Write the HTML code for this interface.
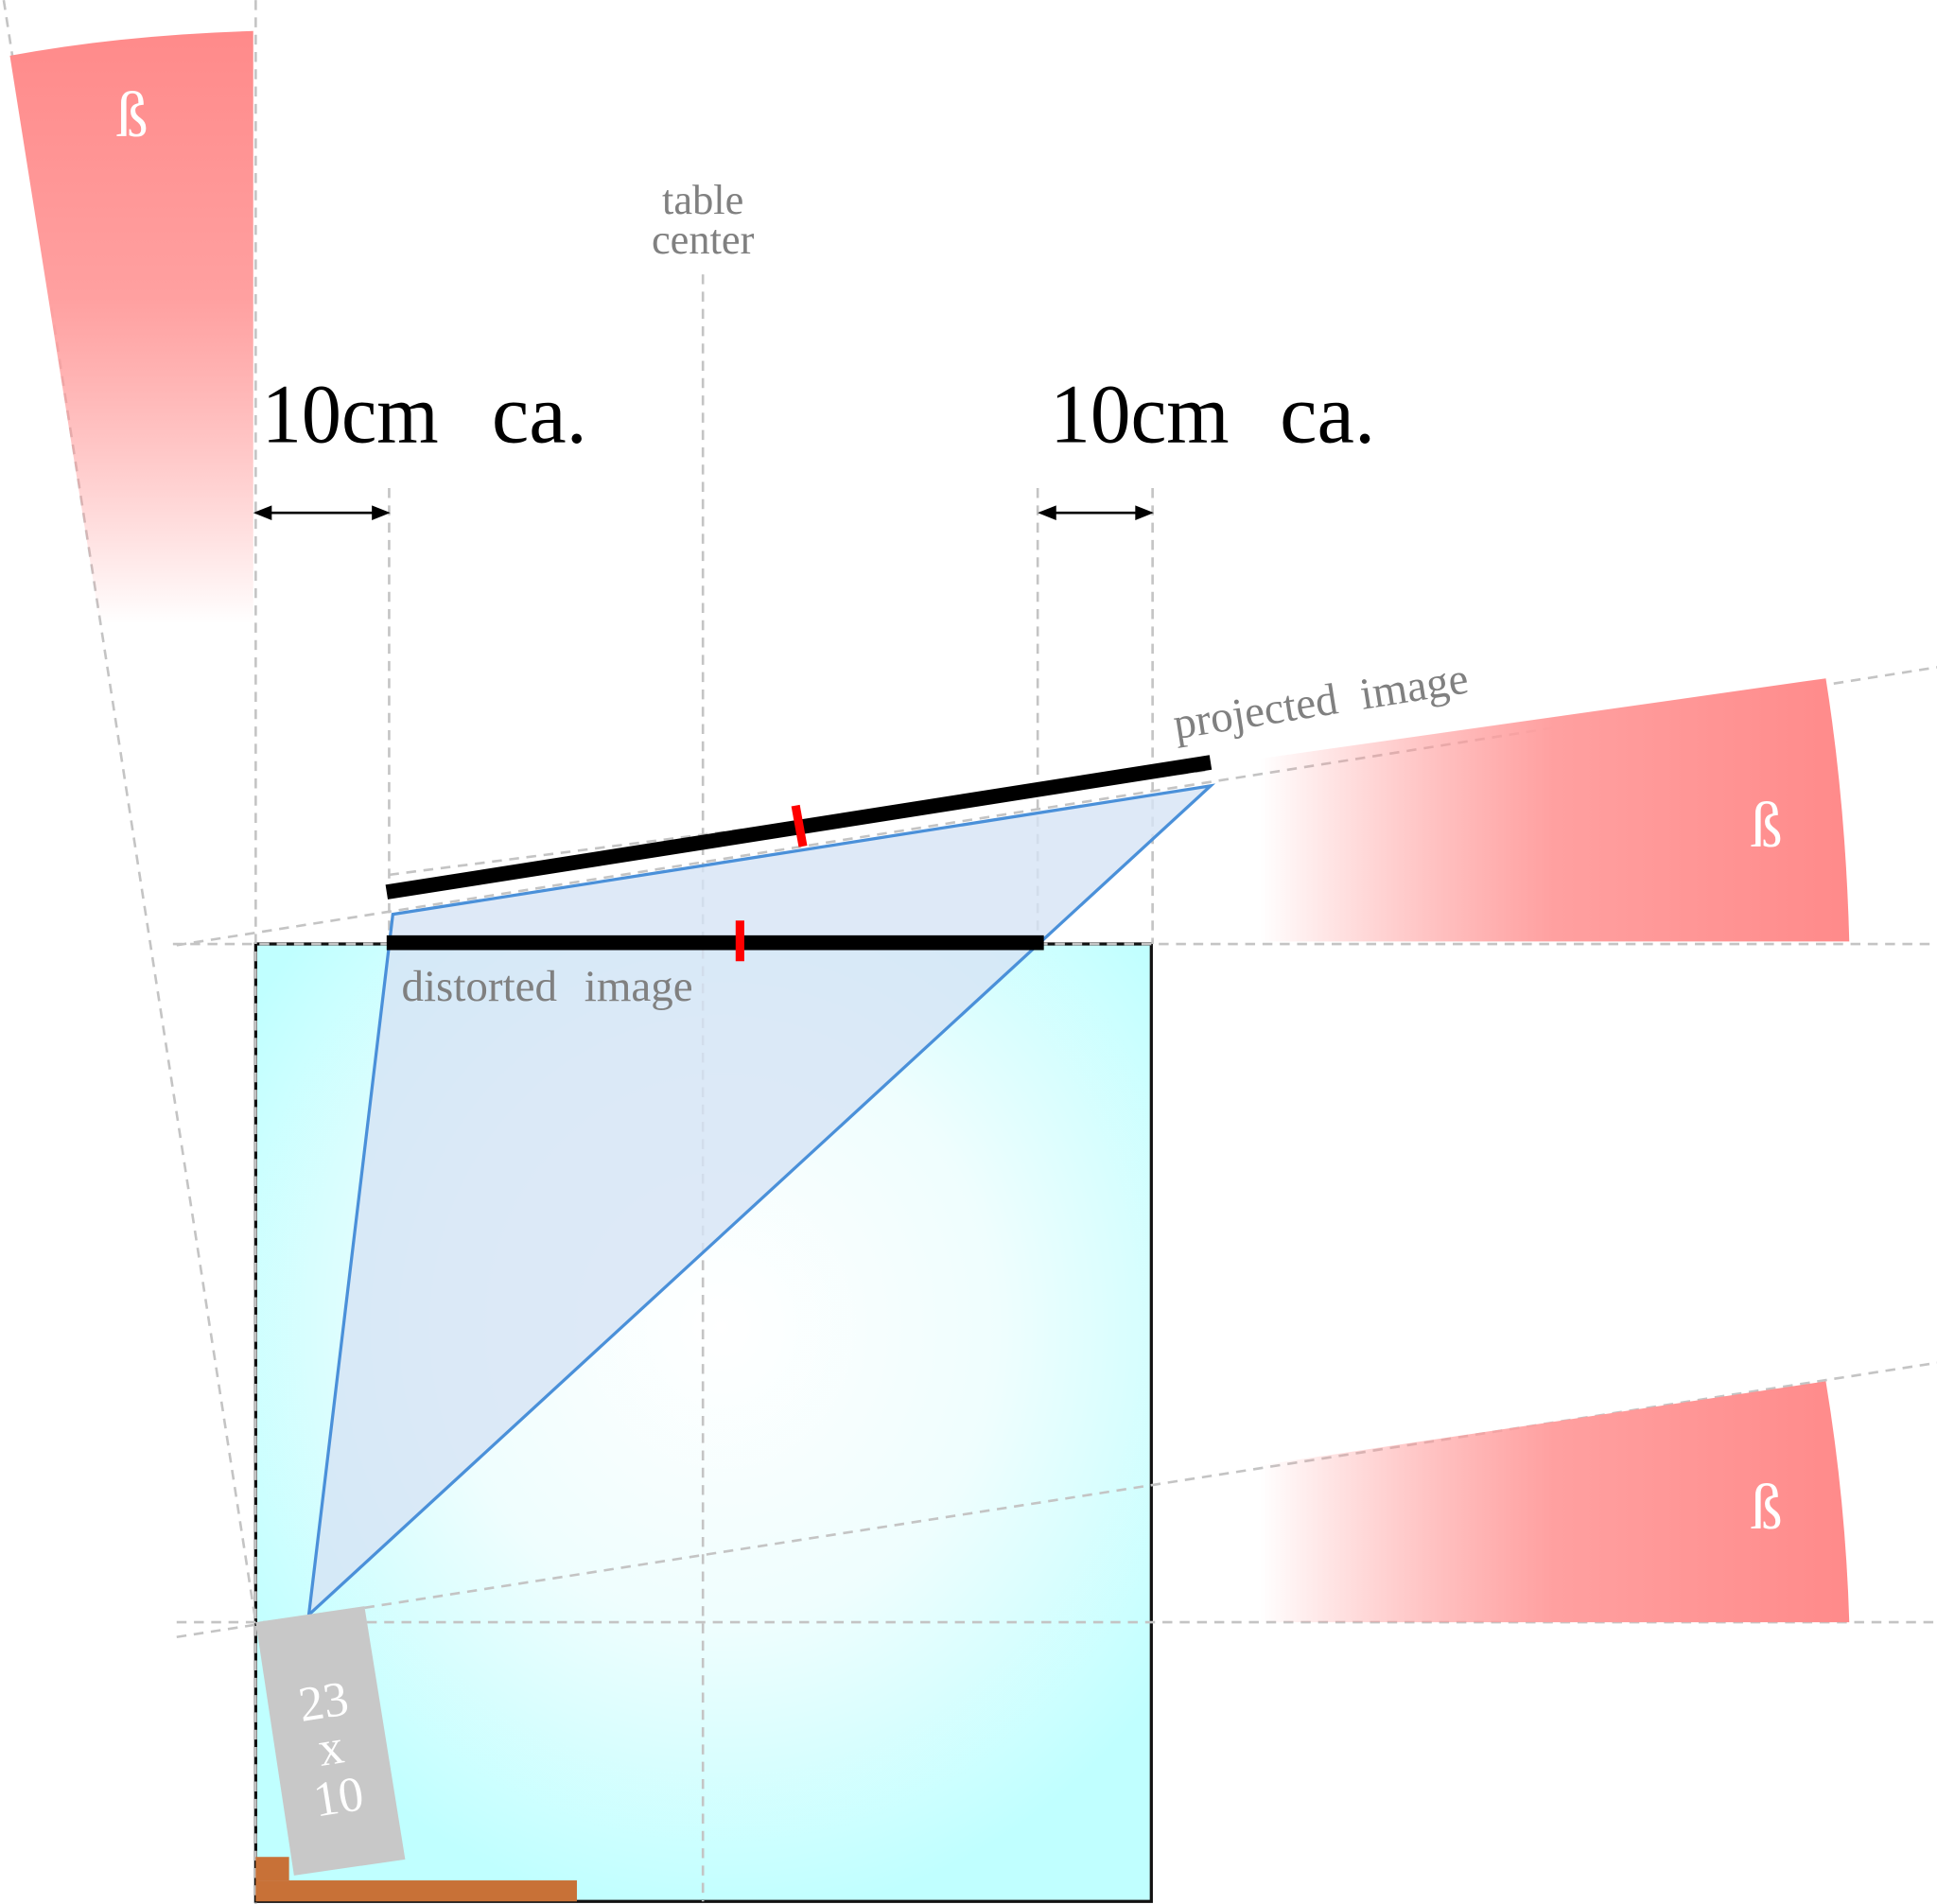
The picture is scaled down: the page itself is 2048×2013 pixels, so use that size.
<!DOCTYPE html>
<html><head><meta charset="utf-8"><style>html,body{margin:0;padding:0;background:#fff}svg{display:block}</style></head>
<body>
<svg width="2048" height="2013" viewBox="0 0 1568 1541" xmlns="http://www.w3.org/2000/svg" font-family="Liberation Serif, serif">
<defs>
<radialGradient id="tbl" cx="0.52" cy="0.4" r="0.62">
<stop offset="0" stop-color="#ffffff"/><stop offset="0.5" stop-color="#effefe"/><stop offset="1" stop-color="#c0ffff"/>
</radialGradient>
<linearGradient id="bv" x1="0" y1="0" x2="0" y2="1">
<stop offset="0" stop-color="#ff8a8a"/><stop offset="0.45" stop-color="#ffa0a0"/><stop offset="1" stop-color="#ff8a8a" stop-opacity="0"/>
</linearGradient>
<linearGradient id="bh" x1="1" y1="0" x2="0" y2="0">
<stop offset="0" stop-color="#ff8a8a"/><stop offset="0.5" stop-color="#ffa0a0"/><stop offset="1" stop-color="#ff8a8a" stop-opacity="0"/>
</linearGradient>
</defs>
<rect x="207" y="764" width="725" height="775" fill="url(#tbl)" stroke="#111" stroke-width="2.5"/>
<g stroke="#c4c4c4" stroke-width="2" stroke-dasharray="8,6" fill="none">
<line x1="207" y1="0" x2="207" y2="1541"/>
<line x1="315" y1="395" x2="315" y2="764"/>
<line x1="569" y1="222" x2="569" y2="1539"/>
<line x1="840" y1="395" x2="840" y2="764"/>
<line x1="933" y1="395" x2="933" y2="764"/>
<line x1="140" y1="764" x2="1568" y2="764"/>
<line x1="143" y1="1313" x2="1568" y2="1313"/>
<line x1="143" y1="765" x2="1568" y2="540"/>
<line x1="143" y1="1325" x2="1568" y2="1103"/>
<line x1="3" y1="0" x2="207" y2="1313"/>
<line x1="315" y1="708" x2="980" y2="623"/>
</g>
<path d="M8,45 Q100,28 205,25 L205,505 L81,505 Z" fill="url(#bv)"/>
<path d="M1020,614 L1478,549 Q1494,650 1497,762 L1020,762 Z" fill="url(#bh)"/>
<path d="M1020,1186 L1478,1118 Q1494,1215 1497,1313 L1020,1313 Z" fill="url(#bh)"/>
<polygon points="318,740 980,636 250,1307" fill="#d6e4f5" fill-opacity="0.8" stroke="#4a90d9" stroke-width="2.5"/>
<line x1="313" y1="722" x2="980" y2="617" stroke="#000" stroke-width="12"/>
<line x1="644" y1="652" x2="650" y2="685" stroke="#f00" stroke-width="7"/>
<line x1="313" y1="763" x2="845" y2="763" stroke="#000" stroke-width="12"/>
<line x1="599" y1="745" x2="599" y2="778" stroke="#f00" stroke-width="7"/>
<polygon points="207,1313 295,1300 328,1505 238,1518" fill="#c8c8c8"/>
<g fill="#fff" font-size="40" text-anchor="middle" transform="rotate(-9 267 1410)">
<text x="267" y="1390">23</text><text x="267" y="1428">x</text><text x="267" y="1468">10</text></g>
<rect x="207" y="1503" width="27" height="19" fill="#c87137"/>
<rect x="207" y="1522" width="260" height="17" fill="#c87137"/>
<g stroke="#000" stroke-width="2">
<line x1="207" y1="415" x2="313" y2="415"/><line x1="842" y1="415" x2="931" y2="415"/></g>
<g fill="#000">
<polygon points="205,415 220,409 220,421"/><polygon points="316,415 301,409 301,421"/>
<polygon points="840,415 855,409 855,421"/><polygon points="934,415 919,409 919,421"/></g>
<g font-size="68" fill="#000">
<text x="212" y="358" textLength="143" lengthAdjust="spacingAndGlyphs">10cm</text><text x="398" y="358">ca.</text>
<text x="850" y="358" textLength="145" lengthAdjust="spacingAndGlyphs">10cm</text><text x="1036" y="358">ca.</text></g>
<text x="569" y="173" font-size="34" fill="#808080" text-anchor="middle">table</text>
<text x="569" y="205" font-size="34" fill="#808080" text-anchor="middle">center</text>
<g font-size="36" fill="#808080">
<text x="325" y="810">distorted</text><text x="473" y="810">image</text></g>
<g font-size="36" fill="#808080" transform="rotate(-9 952 598)">
<text x="952" y="598">projected</text><text x="1105" y="598">image</text></g>
<g fill="#fff" font-size="52" text-anchor="middle">
<text x="107" y="110">ß</text><text x="1430" y="685">ß</text><text x="1430" y="1237">ß</text></g>
</svg>
</body></html>
